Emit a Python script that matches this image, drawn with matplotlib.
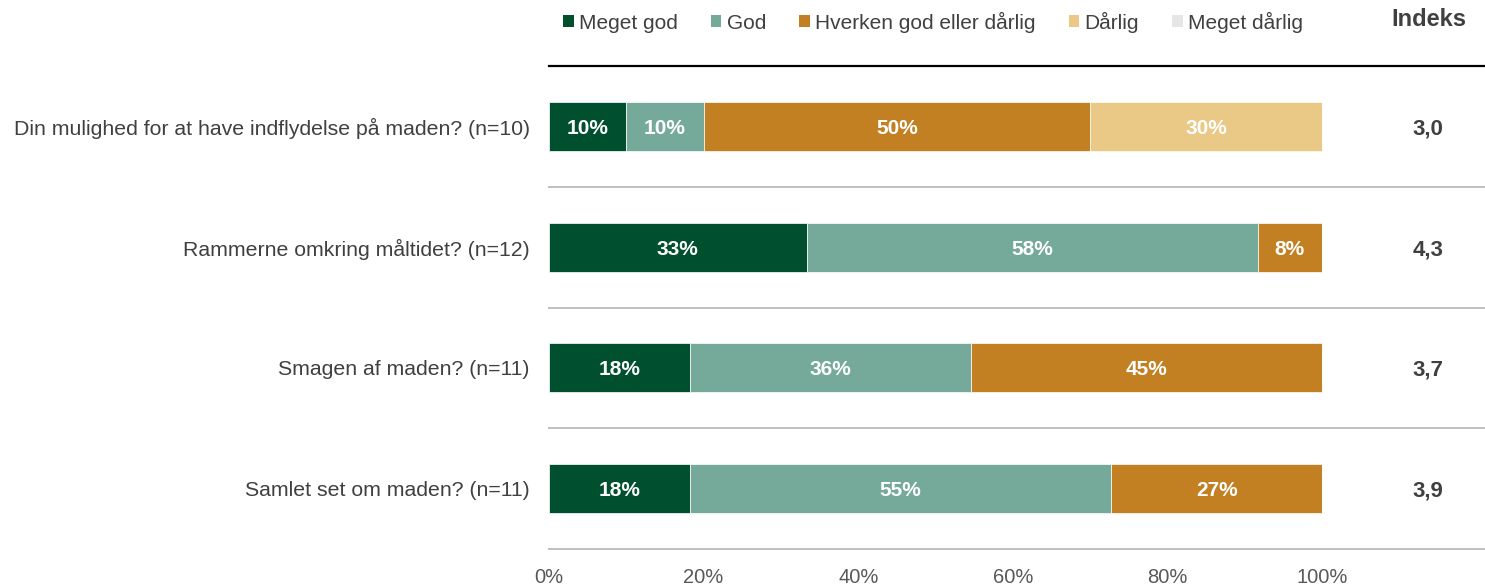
import matplotlib
matplotlib.use("Agg")
import matplotlib.pyplot as plt
from matplotlib.patches import Patch

plt.rcParams['font.family'] = ['Liberation Sans', 'DejaVu Sans']

categories = [
    "Din mulighed for at have indflydelse på maden? (n=10)",
    "Rammerne omkring måltidet? (n=12)",
    "Smagen af maden? (n=11)",
    "Samlet set om maden? (n=11)",
]
series_names = ["Meget god", "God", "Hverken god eller dårlig", "Dårlig", "Meget dårlig"]
meget_god = [10.0, 33.33, 18.18, 18.18]
god = [10.0, 58.33, 36.36, 54.55]
hverken = [50.0, 8.33, 45.45, 27.27]
daarlig = [30.0, 0.0, 0.0, 0.0]
meget_daarlig = [0.0, 0.0, 0.0, 0.0]
indeks = ["3,0", "4,3", "3,7", "3,9"]
xticks = [0, 20, 40, 60, 80, 100]
xtick_labels = ["0%", "20%", "40%", "60%", "80%", "100%"]

colors = ["#005030", "#75A99A", "#C28023", "#EAC885", "#E6E6E6"]
series = [meget_god, god, hverken, daarlig, meget_daarlig]

W, H = 1485, 587
fig = plt.figure(figsize=(W / 100, H / 100), dpi=100)
ax_left = 549 / W
ax_bottom = 1 - 549 / H
ax_top = 1 - 66 / H
ax = fig.add_axes([ax_left, ax_bottom, 1 - ax_left, ax_top - ax_bottom])

xmax = (W - 549) / 773 * 100
ax.set_xlim(0, xmax)
ax.set_ylim(len(categories) - 0.5, -0.5)

ypos = list(range(len(categories)))
left = [0.0] * len(categories)
for vals, col in zip(series, colors):
    ax.barh(ypos, vals, left=left, height=0.405, color=col,
            edgecolor="white", linewidth=0.5)
    for y, v, l in zip(ypos, vals, left):
        if v > 0:
            ax.text(l + v / 2, y, f"{v:.0f}%", ha="center", va="center_baseline",
                    color="white", fontsize=15, fontweight="bold")
    left = [a + b for a, b in zip(left, vals)]

# separators
ax.axhline(-0.5, color="black", lw=1.6, clip_on=False)
for i in range(len(categories)):
    ax.axhline(i + 0.5, color="#BFBFBF", lw=1.4, clip_on=False)

# index values
idx_x = (1428 - 549) / 7.73
for y, t in zip(ypos, indeks):
    ax.text(idx_x, y, t, ha="center", va="center_baseline", color="#404040",
            fontsize=16, fontweight="bold")

ax.set_yticks(ypos)
ax.set_yticklabels(categories, fontsize=15.3, color="#404040")
ax.set_xticks(xticks)
ax.set_xticklabels(xtick_labels, fontsize=14.5, color="#595959")
ax.tick_params(axis="both", length=0)
ax.tick_params(axis="y", pad=13.7)
ax.tick_params(axis="x", pad=13.5)
for s in ax.spines.values():
    s.set_visible(False)

handles = [Patch(facecolor=c, edgecolor="none") for c in colors]
fig.legend(handles, series_names, loc="center", bbox_to_anchor=(933 / W, 1 - 22 / H),
           ncol=5, frameon=False, fontsize=15, handlelength=0.5, handleheight=0.5,
           handletextpad=0.25, columnspacing=1.6, labelcolor="#404040",
           borderpad=0, borderaxespad=0)

fig.text(1429 / W, 1 - 17 / H, "Indeks", ha="center", va="center_baseline",
         fontsize=17, fontweight="bold", color="#404040")

fig.savefig("out.png", dpi=100)
